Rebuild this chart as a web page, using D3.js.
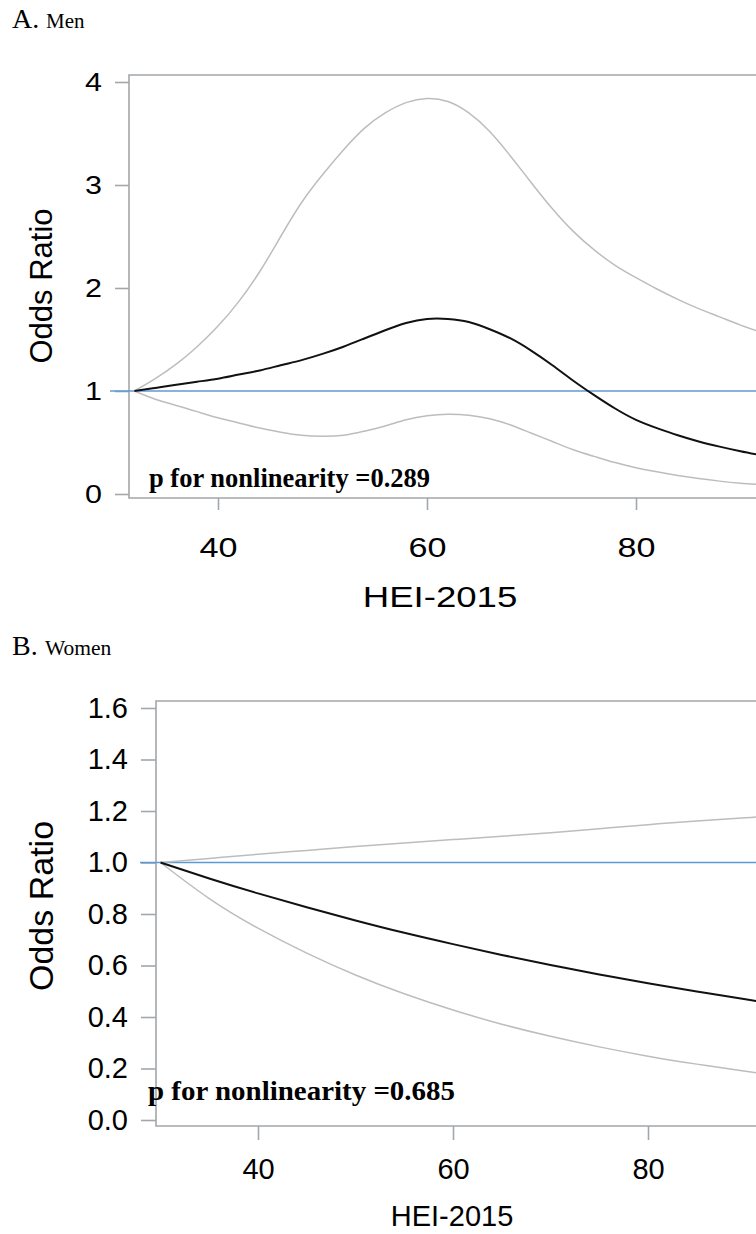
<!DOCTYPE html>
<html>
<head>
<meta charset="utf-8">
<script src="https://cdn.jsdelivr.net/npm/d3@7"></script>
<style>
  html, body { margin: 0; padding: 0; background: #fff; overflow: hidden; }
  svg { display: block; }
</style>
</head>
<body>
<svg id="chart" width="756" height="1234"></svg>
<script>
// ---------------- DATA ----------------
// Panel A: Men
const menHEI   = [32, 34, 36, 38, 40, 42, 44, 46, 48, 50, 52, 54, 56, 58, 60, 62, 64, 66, 68, 70, 72, 74, 76, 78, 80, 82, 84, 86, 88, 90, 92];
const menOR    = [1.00, 1.03, 1.06, 1.09, 1.12, 1.16, 1.20, 1.25, 1.30, 1.36, 1.43, 1.51, 1.59, 1.66, 1.70, 1.70, 1.67, 1.60, 1.51, 1.39, 1.25, 1.10, 0.96, 0.83, 0.72, 0.64, 0.57, 0.51, 0.46, 0.415, 0.375];
const menLower = [1.00, 0.92, 0.86, 0.80, 0.74, 0.69, 0.64, 0.60, 0.57, 0.56, 0.57, 0.61, 0.66, 0.72, 0.76, 0.775, 0.765, 0.73, 0.67, 0.59, 0.51, 0.43, 0.365, 0.305, 0.255, 0.215, 0.18, 0.15, 0.125, 0.105, 0.09];
const menUpper = [1.00, 1.12, 1.26, 1.43, 1.63, 1.87, 2.16, 2.50, 2.83, 3.10, 3.34, 3.55, 3.70, 3.80, 3.84, 3.81, 3.70, 3.52, 3.28, 3.02, 2.77, 2.55, 2.37, 2.22, 2.10, 1.99, 1.89, 1.80, 1.72, 1.64, 1.57];

// Panel B: Women
const womenHEI   = [30, 35, 40, 45, 50, 55, 60, 65, 70, 75, 80, 85, 90, 92];
const womenOR    = [1.00, 0.938, 0.880, 0.826, 0.775, 0.727, 0.683, 0.641, 0.602, 0.565, 0.531, 0.499, 0.469, 0.457];
const womenLower = [1.00, 0.86, 0.745, 0.648, 0.563, 0.490, 0.427, 0.372, 0.325, 0.284, 0.248, 0.217, 0.189, 0.179];
const womenUpper = [1.00, 1.016, 1.032, 1.047, 1.062, 1.076, 1.089, 1.102, 1.116, 1.131, 1.147, 1.161, 1.174, 1.18];

const menYTicks   = [0, 1, 2, 3, 4];
const womenYTicks = [0.0, 0.2, 0.4, 0.6, 0.8, 1.0, 1.2, 1.4, 1.6];
const xTicks      = [40, 60, 80];
const refOR       = 1;

const panelTitles = [["A.", "Men"], ["B.", "Women"]];
const pTexts      = ["p for nonlinearity =0.289", "p for nonlinearity =0.685"];
const xLabel      = "HEI-2015";
const yLabel      = "Odds Ratio";

// ---------------- STYLE ----------------
const FRAME = "#a3a7ab";
const BLUE  = "#5b9bd5";
const CI    = "#bdbdbd";
const SANS  = "Arial, 'Liberation Sans', sans-serif";
const SERIF = "'Times New Roman', 'Liberation Serif', serif";

const svg = d3.select("#chart");

function panel(cfg) {
  const g = svg.append("g");
  const x = d3.scaleLinear().domain(cfg.xDomain).range(cfg.xRange);
  const y = d3.scaleLinear().domain(cfg.yDomain).range(cfg.yRange);

  const left = cfg.frame.left, top = cfg.frame.top, bottom = cfg.frame.bottom, right = 900;

  // frame
  g.append("path")
    .attr("d", `M${right},${top}H${left}V${bottom}H${right}`)
    .attr("fill", "none").attr("stroke", FRAME).attr("stroke-width", 1.6);

  // y axis ticks + labels
  const yAxis = d3.axisLeft(y).tickValues(cfg.yTicks).tickSize(cfg.tickLen).tickPadding(cfg.yPad)
      .tickFormat(cfg.yFmt);
  const ya = g.append("g").attr("transform", `translate(${left},0)`).call(yAxis);
  ya.select(".domain").remove();
  ya.selectAll(".tick line").attr("stroke", FRAME).attr("stroke-width", 1.6);
  ya.selectAll(".tick text").attr("font-family", SANS).attr("font-size", cfg.yTickFont).attr("fill", "#000")
    .attr("transform", function() {
      const tx = +d3.select(this).attr("x");
      return `translate(${tx},0) scale(${cfg.sx},1) translate(${-tx},0)`;
    });

  // x axis
  const xAxis = d3.axisBottom(x).tickValues(xTicks).tickSize(cfg.xTickLen).tickPadding(cfg.xPad).tickFormat(d3.format("d"));
  const xa = g.append("g").attr("transform", `translate(0,${bottom})`).call(xAxis);
  xa.select(".domain").remove();
  xa.selectAll(".tick line").attr("stroke", FRAME).attr("stroke-width", 1.6);
  xa.selectAll(".tick text").attr("font-family", SANS).attr("font-size", cfg.xTickFont).attr("fill", "#000")
    .attr("transform", `scale(${cfg.sx},1)`);

  // axis titles
  g.append("text")
    .attr("transform", `translate(${cfg.xLabelPos[0]},${cfg.xLabelPos[1]}) scale(${cfg.sx},1)`)
    .attr("text-anchor", "middle").attr("font-family", SANS).attr("font-size", cfg.xLabelFont).text(xLabel);
  g.append("text").attr("transform", `translate(${cfg.yLabelPos[0]},${cfg.yLabelPos[1]}) rotate(-90)`)
    .attr("text-anchor", "middle").attr("font-family", SANS).attr("font-size", cfg.yLabelFont).text(yLabel);

  // reference line
  g.append("line").attr("x1", cfg.refX1).attr("x2", 760)
    .attr("y1", y(refOR)).attr("y2", y(refOR))
    .attr("stroke", BLUE).attr("stroke-width", 1.6);

  const line = d3.line().x(d => x(d[0])).y(d => y(d[1])).curve(d3.curveNatural);
  const series = (vals) => cfg.hei.map((h, i) => [h, vals[i]]);

  g.append("path").attr("d", line(series(cfg.upper))).attr("fill", "none").attr("stroke", CI).attr("stroke-width", 1.5);
  g.append("path").attr("d", line(series(cfg.lower))).attr("fill", "none").attr("stroke", CI).attr("stroke-width", 1.5);
  g.append("path").attr("d", line(series(cfg.or))).attr("fill", "none").attr("stroke", "#111").attr("stroke-width", 2);

  // p text
  g.append("text").attr("x", cfg.pPos[0]).attr("y", cfg.pPos[1])
    .attr("font-family", SERIF).attr("font-weight", "bold").attr("font-size", cfg.pFont)
    .attr("textLength", cfg.pLen).attr("lengthAdjust", "spacingAndGlyphs").text(cfg.pText);

  // panel title
  g.append("text").attr("x", cfg.titlePos[0]).attr("y", cfg.titlePos[1])
    .attr("font-family", SERIF).attr("font-size", cfg.titleFont[0]).text(cfg.title[0]);
  g.append("text").attr("x", cfg.titlePos[2]).attr("y", cfg.titlePos[1])
    .attr("font-family", SERIF).attr("font-size", cfg.titleFont[1]).text(cfg.title[1]);
}

panel({
  hei: menHEI, or: menOR, lower: menLower, upper: menUpper,
  xDomain: [40, 80], xRange: [218, 636],
  yDomain: [0, 4], yRange: [494, 82],
  frame: { left: 129, top: 75, bottom: 498 },
  yTicks: menYTicks, yFmt: d3.format("d"),
  tickLen: 14, xTickLen: 12, yPad: 13, xPad: 27,
  sx: 1.22,
  yTickFont: 25, xTickFont: 28, xLabelFont: 30, yLabelFont: 31,
  xLabelPos: [440, 607], yLabelPos: [52, 286],
  refX1: 110,
  pPos: [149, 487], pFont: 27, pLen: 281, pText: pTexts[0],
  titlePos: [12, 28, 46], titleFont: [28, 21], title: panelTitles[0]
});

panel({
  hei: womenHEI, or: womenOR, lower: womenLower, upper: womenUpper,
  xDomain: [40, 80], xRange: [258, 648],
  yDomain: [0, 1.6], yRange: [1120, 708],
  frame: { left: 156, top: 701, bottom: 1126 },
  yTicks: womenYTicks, yFmt: d3.format(".1f"),
  tickLen: 15, xTickLen: 14, yPad: 13, xPad: 18,
  sx: 1.0,
  yTickFont: 29, xTickFont: 29, xLabelFont: 29, yLabelFont: 34,
  xLabelPos: [452, 1226], yLabelPos: [53, 906],
  refX1: 140,
  pPos: [148, 1100], pFont: 28, pLen: 307, pText: pTexts[1],
  titlePos: [12, 655, 45], titleFont: [28, 21.5], title: panelTitles[1]
});
</script>
</body>
</html>
